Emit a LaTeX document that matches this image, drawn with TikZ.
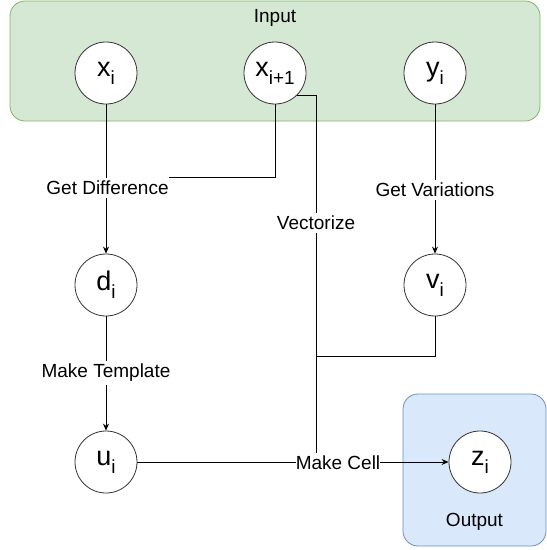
\documentclass[tikz,border=0pt]{standalone}
\usepackage{fontspec}
\setmainfont{Liberation Sans}
\usepackage{xcolor}
\usepackage{tikz}
\usetikzlibrary{positioning,calc,shapes,arrows.meta}

\definecolor{ingreen}{HTML}{D5E8D4}
\definecolor{ingreenline}{HTML}{82B366}
\definecolor{outblue}{HTML}{DAE8FC}
\definecolor{outblueline}{HTML}{6C8EBF}
\newcommand{\lblfont}{\fontsize{19}{22}\selectfont}
\newcommand{\varsub}[2]{{\fontsize{27}{30}\selectfont #1}\raisebox{-8pt}{\lblfont #2}}

\begin{document}
\begin{tikzpicture}[x=1pt,y=-1pt,
	state/.style={draw=black!80, circle, fill=white, minimum size=62pt, inner sep=0pt, line width=0.8pt},
	flow/.style={-{Stealth[length=7pt,width=6pt]}, line width=0.8pt},
	link/.style={line width=0.8pt},
	txt/.style={fill=white, inner xsep=0pt, inner ysep=3pt, font=\lblfont}]
					\useasboundingbox (0,0) rectangle (547,550);
					\node[draw=ingreenline, fill=ingreen, rounded corners=15pt, minimum width=530pt, minimum height=120pt, line width=0.8pt] (inbox) at (275,61) {};
					\node[draw=outblueline, fill=outblue, rounded corners=15pt, minimum width=143pt, minimum height=152pt, line width=0.8pt] (outbox) at (474.5,470) {};
					\node[font=\lblfont] (inlbl) at (275,18) {Input};
					\node[font=\lblfont] (outlbl) at (474.5,522) {Output};

					\node[state] (xi) at (106, 73) {\varsub{x}{i}};
					\node[state] (xi1) at (275, 73) {\varsub{x}{i+1}};
					\node[state] (yi) at (435, 73) {\varsub{y}{i}};
					\node[state] (di) at (106, 285) {\varsub{d}{i}};
					\node[state] (vi) at (435, 285) {\varsub{v}{i}};
					\node[state] (ui) at (106, 462) {\varsub{u}{i}};
					\node[state] (zi) at (480, 462) {\varsub{z}{i}};

					\draw[flow] (xi) -- (di);
					\draw[flow] (yi) -- (vi);
					\draw[flow] (di) -- (ui);
					\draw[flow] (ui) -- (zi);

					\node[txt] (gd) at (107.5, 188) {Get Difference};
					\node[txt] (gv) at (435, 190) {Get Variations};
					\node[txt] (vec) at (316, 223) {Vectorize};
					\node[txt] (mt) at (106, 373) {Make Template};
					\node[txt] (mc) at (338, 463) {Make Cell};
					\coordinate (jn) at (316, 356);

					\draw[link] (xi1.south) |- (gd.north east);
					\draw[link] (xi1.-45) -| (vec.north);
					\draw[link] (vec.south) -- (vec.south |- mc.north);
					\draw[link] (vi.south) |- (jn);
				\end{tikzpicture}
\end{document}
